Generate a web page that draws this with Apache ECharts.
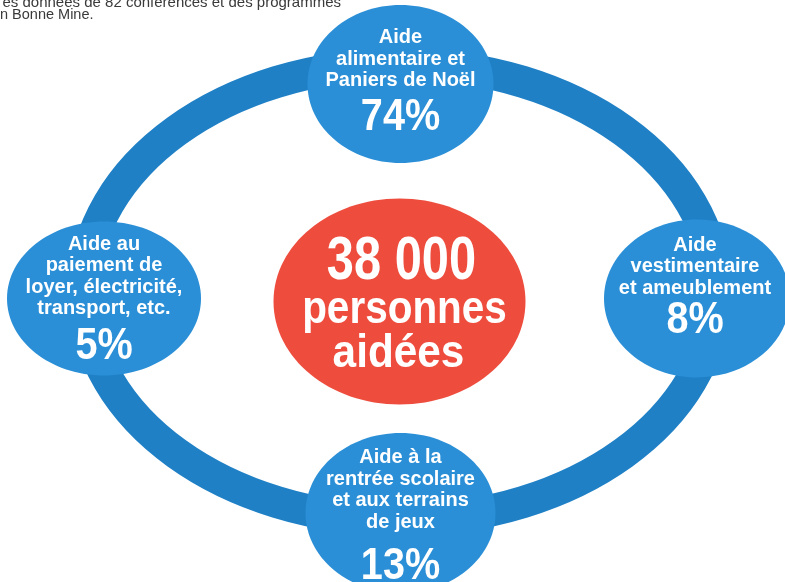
<!DOCTYPE html>
<html>
<head>
<meta charset="utf-8">
<script src="https://cdn.jsdelivr.net/npm/echarts@6/dist/echarts.min.js"></script>
<style>
html,body{margin:0;padding:0;background:#fff;}
#chart{width:785px;height:582px;}
</style>
</head>
<body>
<div id="chart"></div>
<script>
// ---- data ----
const categories = [
  'Aide\nalimentaire et\nPaniers de Noël',
  'Aide\nvestimentaire\net ameublement',
  'Aide à la\nrentrée scolaire\net aux terrains\nde jeux',
  'Aide au\npaiement de\nloyer, électricité,\ntransport, etc.'
];
const percentages = [74, 8, 13, 5];
const totalPeople = '38 000';
const totalCaption = ['personnes', 'aidées'];
const sourceNote = ['es données de 82 conférences et des programmes', 'n Bonne Mine.'];

// ---- layout (positions on a 3x3 category grid) ----
const colCats = ['gauche', 'centre', 'droite'];
const rowCats = ['bas', 'milieu', 'haut'];
const slots = [['centre', 'haut'], ['droite', 'milieu'], ['centre', 'bas'], ['gauche', 'milieu']];
const bubbleSizes = [[186, 158], [186, 158], [190, 160], [194, 154]];
// text offsets relative to the bubble centre: [dx, name block dy, pct dy]
const textLayout = [[0, -25, 34], [-2, -32, 22], [0, -23, 54], [0, -22, 48]];

const FONT = '"Liberation Sans", Arial, sans-serif';

const chart = echarts.init(document.getElementById('chart'), null, {renderer: 'canvas'});

const option = {
  animation: false,
  backgroundColor: '#ffffff',
  grid: {left: 104, right: 88, top: 84, bottom: 69},
  xAxis: {type: 'category', data: colCats, boundaryGap: false, show: false},
  yAxis: {type: 'category', data: rowCats, boundaryGap: false, show: false},
  graphic: [
    {
      type: 'ellipse', z: 0, silent: true,
      shape: {cx: 400, cy: 292, rx: 316, ry: 228},
      style: {fill: 'none', stroke: '#1F80C6', lineWidth: 32}
    },
    {
      type: 'text', silent: true, x: 341, y: -5,
      style: {text: sourceNote[0], fill: '#3a3a3a', font: '15px ' + FONT, align: 'right', verticalAlign: 'top'}
    },
    {
      type: 'text', silent: true, x: 0, y: 7,
      style: {text: sourceNote[1], fill: '#3a3a3a', font: '14.5px ' + FONT, align: 'left', verticalAlign: 'top'}
    }
  ],
  series: [
    {
      type: 'custom',
      z: 5,
      data: slots,
      renderItem: function (params, api) {
        const i = params.dataIndex;
        const c = api.coord([api.value(0), api.value(1)]);
        const sz = bubbleSizes[i];
        const t = textLayout[i];
        return {
          type: 'group',
          children: [
            {type: 'ellipse', shape: {cx: c[0], cy: c[1], rx: sz[0] / 2, ry: sz[1] / 2}, style: {fill: '#2A8FD7'}},
            {type: 'text', x: c[0] + t[0], y: c[1] + t[1],
              style: {text: categories[i], fill: '#ffffff', font: 'bold 20px ' + FONT, align: 'center', verticalAlign: 'middle', lineHeight: 21.5}},
            {type: 'text', x: c[0] + t[0], y: c[1] + t[2], scaleX: 0.9,
              style: {text: percentages[i] + '%', fill: '#ffffff', font: 'bold 44px ' + FONT, align: 'center', verticalAlign: 'middle'}}
          ]
        };
      }
    },
    {
      type: 'custom',
      z: 6,
      data: [['centre', 'milieu']],
      renderItem: function (params, api) {
        const c = api.coord([api.value(0), api.value(1)]);
        return {
          type: 'group',
          children: [
            {type: 'ellipse', shape: {cx: c[0] - 1, cy: c[1] + 3, rx: 126, ry: 103}, style: {fill: '#EE4D3E'}},
            {type: 'text', x: c[0] + 1, y: c[1] - 36, scaleX: 0.8,
              style: {text: totalPeople, fill: '#ffffff', font: 'bold 61px ' + FONT, align: 'center', verticalAlign: 'middle'}},
            {type: 'text', x: c[0] + 4, y: c[1] + 12, scaleX: 0.88,
              style: {text: totalCaption[0], fill: '#ffffff', font: 'bold 46px ' + FONT, align: 'center', verticalAlign: 'middle'}},
            {type: 'text', x: c[0] - 2, y: c[1] + 56, scaleX: 0.92,
              style: {text: totalCaption[1], fill: '#ffffff', font: 'bold 46px ' + FONT, align: 'center', verticalAlign: 'middle'}}
          ]
        };
      }
    }
  ]
};
chart.setOption(option);
</script>
</body>
</html>
